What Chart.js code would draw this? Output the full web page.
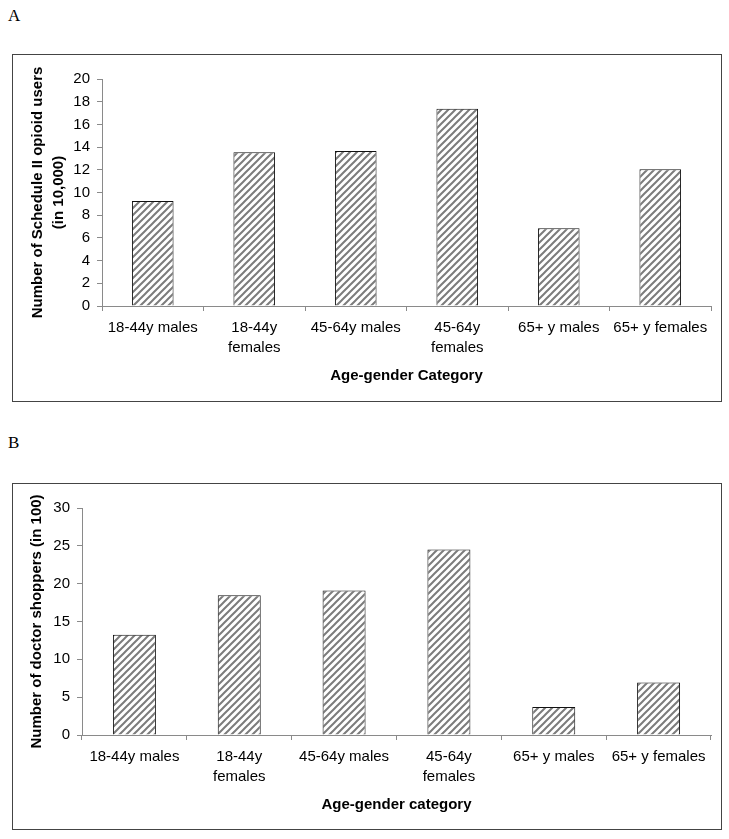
<!DOCTYPE html>
<html>
<head>
<meta charset="utf-8">
<script src="https://cdn.jsdelivr.net/npm/chart.js@4.4.1/dist/chart.umd.min.js"></script>
<style>
  body { margin: 0; background: #fff; width: 729px; height: 839px; position: relative; overflow: hidden; }
  .panel { position: absolute; left: 8px; font-family: "Liberation Serif", "Times New Roman", serif; font-size: 17px; color: #000; }
  .box { position: absolute; left: 12px; width: 710px; border: 1px solid #444; box-sizing: border-box; }
  .box canvas { position: absolute; left: 0; top: 0; }
</style>
</head>
<body>
<div class="panel" style="top:6px">A</div>
<div class="box" style="top:54px;height:348px"><canvas id="chartA" width="708" height="346"></canvas></div>
<div class="panel" style="top:433px">B</div>
<div class="box" style="top:483px;height:347px"><canvas id="chartB" width="708" height="345"></canvas></div>
<script>
// categories and tick labels (wrapped like the original)
const categories = ["18-44y males", "18-44y females", "45-64y males", "45-64y females", "65+ y males", "65+ y females"];
const tickLabels = [["18-44y males"], ["18-44y", "females"], ["45-64y males"], ["45-64y", "females"], ["65+ y males"], ["65+ y females"]];

// A: Schedule II opioid users (in 10,000)
const opioidUsers = [9.25, 13.54, 13.66, 17.38, 6.84, 12.04];
const opioidAxis = [0, 20, 2]; // min, max, step

// B: doctor shoppers (in 100)
const doctorShoppers = [13.24, 18.47, 19.09, 24.5, 3.69, 6.95];
const shopperAxis = [0, 30, 5];

const FONT = '"Liberation Sans", Arial, sans-serif';
const AXIS_GRAY = '#8a8a8a';

function hatch() {
    const c = document.createElement('canvas');
    c.width = 7; c.height = 7;
    const g = c.getContext('2d');
    g.fillStyle = '#fff';
    g.fillRect(0, 0, 7, 7);
    g.strokeStyle = '#7c7c7c';
    g.lineWidth = 2;
    g.beginPath();
    g.moveTo(-1, 8); g.lineTo(8, -1);
    g.moveTo(-4.5, 4.5); g.lineTo(4.5, -4.5);
    g.moveTo(2.5, 11.5); g.lineTo(11.5, 2.5);
    g.stroke();
    return g.createPattern(c, 'repeat');
}

function makeChart(id, values, axis, yTitle, xTitle, yWidth, xHeight, yTitlePad, xTitlePad) {
    const ctx = document.getElementById(id).getContext('2d');
    return new Chart(ctx, {
        type: 'bar',
        data: {
            labels: tickLabels,
            datasets: [{
                data: values,
                backgroundColor: hatch(),
                borderColor: '#111',
                borderWidth: 1,
                categoryPercentage: 1,
                barPercentage: 0.41
            }]
        },
        options: {
            responsive: false,
            devicePixelRatio: 1,
            animation: false,
            layout: { padding: { top: 24, right: 10, left: 0, bottom: 0 } },
            plugins: { legend: { display: false }, tooltip: { enabled: false } },
            scales: {
                x: {
                    grid: { offset: true, drawOnChartArea: false, drawTicks: true, tickLength: 5, color: AXIS_GRAY },
                    border: { display: true, color: AXIS_GRAY, width: 1 },
                    ticks: { color: '#000', padding: 7, maxRotation: 0, autoSkip: false,
                             font: { family: FONT, size: 15, lineHeight: 1.33 } },
                    title: { display: true, text: xTitle, color: '#000',
                             font: { family: FONT, size: 15, weight: 'bold', lineHeight: 1.2 },
                             padding: { top: 0, bottom: xTitlePad } },
                    afterFit: function (scale) { scale.height = xHeight; }
                },
                y: {
                    min: axis[0], max: axis[1],
                    grid: { drawOnChartArea: false, drawTicks: true, tickLength: 5, color: AXIS_GRAY },
                    border: { display: true, color: AXIS_GRAY, width: 1 },
                    ticks: { stepSize: axis[2], color: '#000', padding: 7,
                             font: { family: FONT, size: 15 } },
                    title: { display: true, text: yTitle, color: '#000',
                             font: { family: FONT, size: 15, weight: 'bold', lineHeight: 1.43 },
                             padding: { top: yTitlePad, bottom: 0 } },
                    afterFit: function (scale) { scale.width = yWidth; }
                }
            }
        }
    });
}

makeChart('chartA', opioidUsers, opioidAxis,
    ['Number of Schedule II opioid users', '(in 10,000)'], 'Age-gender Category', 89, 95, 14, 16);
makeChart('chartB', doctorShoppers, shopperAxis,
    'Number of doctor shoppers (in 100)', 'Age-gender category', 69, 94, 13, 15);
</script>
</body>
</html>
